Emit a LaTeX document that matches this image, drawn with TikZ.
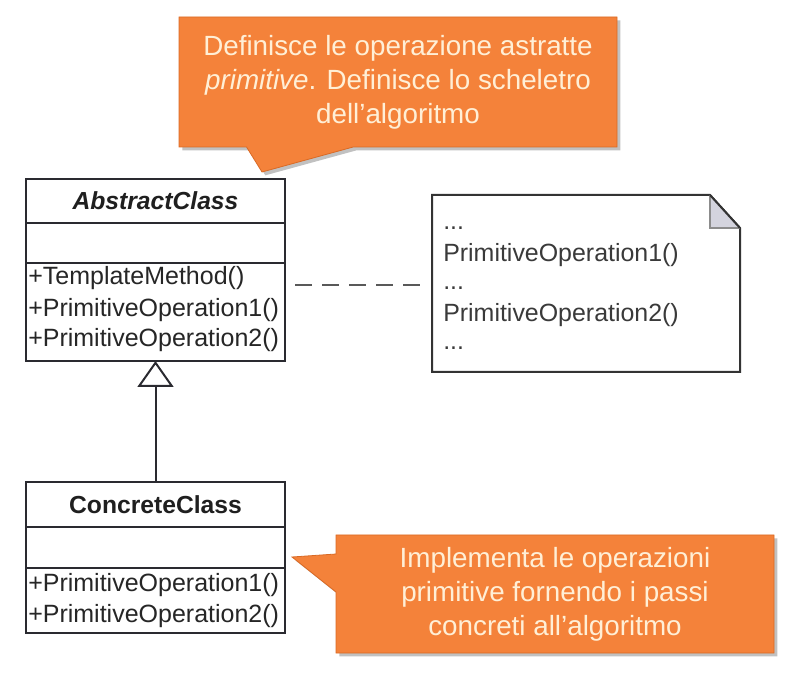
\documentclass[tikz,border=0pt]{standalone}
\usepackage{fontspec}
\setmainfont{Liberation Sans}
\usetikzlibrary{shapes.callouts,shadows,arrows.meta,calc}
\definecolor{callfill}{HTML}{F4823A}
\definecolor{callborder}{HTML}{D96A25}
\definecolor{calltext}{HTML}{FFEFD6}
\definecolor{umlline}{HTML}{2A2A30}
\definecolor{notetext}{HTML}{3A3A3A}
\definecolor{foldfill}{HTML}{D4D4DE}
\begin{document}
\begin{tikzpicture}[x=0.75pt,y=-0.75pt,
  comp/.style={draw=umlline, line width=1.5pt, minimum width=194.25pt, inner sep=0pt, outer sep=0pt, anchor=north west, fill=white},
  ctitle/.style={font=\fontsize{18.5pt}{22pt}\selectfont\bfseries, text=black!88},
  meth/.style={anchor=base west, inner sep=0pt, font=\fontsize{18.75pt}{23pt}\selectfont, text=black!85},
  notetxt/.style={anchor=base west, inner sep=0pt, font=\fontsize{18.7pt}{22pt}\selectfont, text=notetext},
  callout/.style={rectangle callout, fill=callfill, draw=callborder, line width=0.6pt, text=calltext, align=center,
    font=\fontsize{20.85pt}{25.5pt}\selectfont,
    drop shadow={shadow xshift=2.5pt, shadow yshift=-2.5pt, opacity=0.35, fill=black!70}},
  gen/.style={draw=umlline, line width=1.5pt, -{Triangle[open, length=19.5pt, width=27pt]}},
  depline/.style={draw=black!65, line width=1.5pt, dash pattern=on 12.75pt off 7.5pt, shorten <=7.5pt, shorten >=7.5pt},
  notebdr/.style={draw=black!80, line width=1.5pt, fill=white}
]
\useasboundingbox (0,0) rectangle (808,684);

% Abstract class
\node[comp, minimum height=33pt, ctitle, font=\fontsize{18.5pt}{22pt}\selectfont\bfseries\itshape] (abt) at (26,179) {AbstractClass};
\node[comp, minimum height=30pt] (aba) at (abt.south west) {};
\node[comp, minimum height=73.5pt] (abo) at (aba.south west) {};
\node[meth] (tm) at (28,285) {+TemplateMethod()};
\node[meth] (ap1) at (28,317) {+PrimitiveOperation1()};
\node[meth] (ap2) at (28,347) {+PrimitiveOperation2()};

% Concrete class
\node[comp, minimum height=33.75pt, ctitle] (cct) at (26,482) {ConcreteClass};
\node[comp, minimum height=30.75pt] (cca) at (cct.south west) {};
\node[comp, minimum height=48.75pt] (cco) at (cca.south west) {};
\node[meth] (cp1) at (28,592) {+PrimitiveOperation1()};
\node[meth] (cp2) at (28,623) {+PrimitiveOperation2()};

% generalization
\draw[gen] (cct.north) -- (abo.south);

% note
\node[minimum width=231pt, minimum height=132.75pt, inner sep=0pt, outer sep=0pt] (note) at (586,283.5) {};
\draw[notebdr] (note.north west) -- ($(note.north east)+(-30,0)$) -- ($(note.north east)+(0,33)$) -- (note.south east) -- (note.south west) -- cycle;
\draw[fill=foldfill, draw=black!45, line width=1pt] ($(note.north east)+(-30,0)$) -- ($(note.north east)+(-30,33)$) -- ($(note.north east)+(0,33)$);
\draw[draw=black!80, line width=1.5pt] ($(note.north east)+(-30,0)$) -- ($(note.north east)+(0,33)$);
\node[notetxt] (n1) at (443,230) {...};
\node[notetxt] (n2) at (443,262) {PrimitiveOperation1()};
\node[notetxt] (n3) at (443,290) {...};
\node[notetxt] (n4) at (443,322) {PrimitiveOperation2()};
\node[notetxt] (n5) at (443,350) {...};

% dependency
\draw[depline] (abo.east |- tm.base) -- (note.west |- tm.base);

% callouts
\node[callout, minimum width=328.5pt, minimum height=97.5pt, callout absolute pointer={(262,172)}, callout pointer width=80pt] (c1) at (398,82)
  {Definisce le operazione astratte\\\textit{primitive}. Definisce lo scheletro\\dell'algoritmo};
\node[callout, minimum width=328.5pt, minimum height=88.5pt, callout absolute pointer={(292,557)}, callout pointer width=28.5pt] (c2) at (555,594)
  {Implementa le operazioni\\primitive fornendo i passi\\concreti all'algoritmo};
\end{tikzpicture}
\end{document}
